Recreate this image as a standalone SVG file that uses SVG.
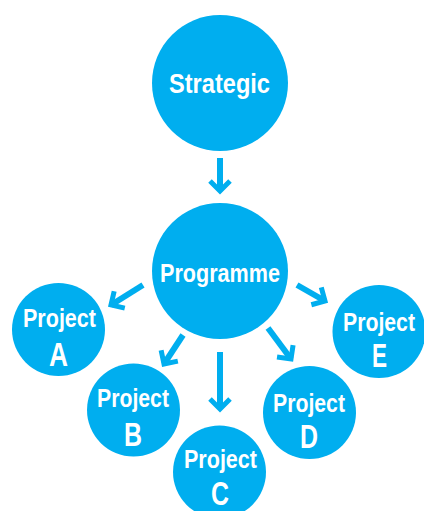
<svg xmlns="http://www.w3.org/2000/svg" width="424" height="511" viewBox="0 0 424 511">
<defs>
<style>
.n{fill:#00AEEF}
.t{fill:#fff;font-family:"Liberation Sans Narrow","Liberation Sans",Arial,sans-serif;font-weight:bold;text-anchor:middle}
.p{font-size:26px}
.l{font-size:33px}
.c line{stroke:#00AEEF;stroke-width:6;fill:none}
</style>
<marker id="ah" markerUnits="userSpaceOnUse" viewBox="-16 -16 22 32" refX="0" refY="0" markerWidth="22" markerHeight="32" orient="auto">
<path d="M-10,-10 L0,0 L-10,10" fill="none" stroke="#00AEEF" stroke-width="5" stroke-linejoin="miter"/>
</marker>
</defs>
<g id="connectors" class="c">
<line x1="220" y1="158" x2="220" y2="191" marker-end="url(#ah)"/>
<line x1="143" y1="285" x2="111" y2="305" marker-end="url(#ah)"/>
<line x1="183" y1="335" x2="164" y2="364" marker-end="url(#ah)"/>
<line x1="220" y1="352" x2="220" y2="409" marker-end="url(#ah)"/>
<line x1="268" y1="328" x2="291" y2="359" marker-end="url(#ah)"/>
<line x1="297" y1="285" x2="325" y2="301" marker-end="url(#ah)"/>
</g>
<g id="strategic">
<circle class="n" cx="220" cy="83" r="68"/>
<text class="t" x="219.5" y="93" font-size="28" textLength="101" lengthAdjust="spacingAndGlyphs">Strategic</text>
</g>
<g id="programme">
<circle class="n" cx="220" cy="271" r="68"/>
<text class="t" x="220" y="282" font-size="26" textLength="120" lengthAdjust="spacingAndGlyphs">Programme</text>
</g>
<g id="projectA">
<circle class="n" cx="58.5" cy="329.5" r="46.5"/>
<text class="t p" x="59.5" y="327" textLength="73" lengthAdjust="spacingAndGlyphs">Project</text>
<text class="t l" x="58.5" y="366" textLength="19" lengthAdjust="spacingAndGlyphs">A</text>
</g>
<g id="projectB">
<circle class="n" cx="133.5" cy="410" r="46.5"/>
<text class="t p" x="133" y="407" textLength="72" lengthAdjust="spacingAndGlyphs">Project</text>
<text class="t l" x="133" y="446" textLength="18" lengthAdjust="spacingAndGlyphs">B</text>
</g>
<g id="projectC">
<circle class="n" cx="219.5" cy="472" r="46.5"/>
<text class="t p" x="220.5" y="468" textLength="73" lengthAdjust="spacingAndGlyphs">Project</text>
<text class="t l" x="220" y="505" textLength="18" lengthAdjust="spacingAndGlyphs">C</text>
</g>
<g id="projectD">
<circle class="n" cx="309.5" cy="412.5" r="46.5"/>
<text class="t p" x="309" y="412" textLength="72" lengthAdjust="spacingAndGlyphs">Project</text>
<text class="t l" x="309" y="448" textLength="18" lengthAdjust="spacingAndGlyphs">D</text>
</g>
<g id="projectE">
<circle class="n" cx="379" cy="331.5" r="46.5"/>
<text class="t p" x="0" y="0" transform="translate(379,331) scale(0.82,1)" textLength="87.8" lengthAdjust="spacingAndGlyphs">Project</text>
<text class="t l" x="379.5" y="367" textLength="15" lengthAdjust="spacingAndGlyphs">E</text>
</g>
</svg>
